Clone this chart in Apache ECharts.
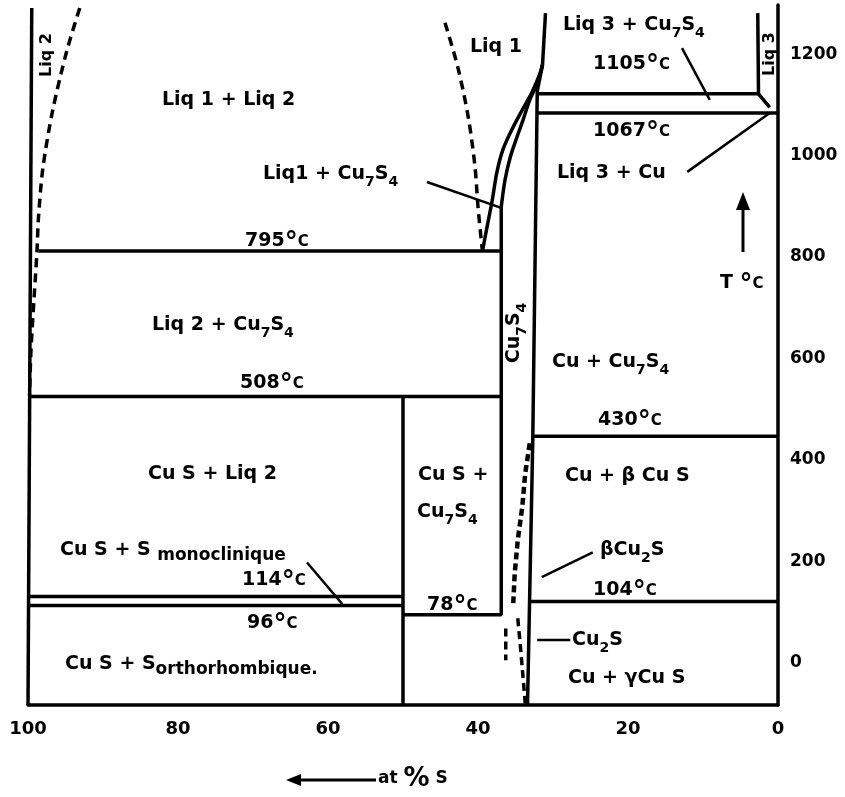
<!DOCTYPE html>
<html><head><meta charset="utf-8">
<script src="https://cdn.jsdelivr.net/npm/echarts@6/dist/echarts.min.js"></script>
<style>html,body{margin:0;padding:0;background:#fff}#c{width:845px;height:797px}</style>
</head><body><div id="c"></div>
<script>
// ---- data (x = at % S, y = temperature °C) ----
const xTicks = [0, 20, 40, 60, 80, 100];
const yTicks = [0, 200, 400, 600, 800, 1000, 1200];

const sulfurEdge = [[100, -100], [99.5, 1274]];
const liq2Gap = [[93.1, 1274], [94.8, 1191], [96.7, 1073], [98.0, 960], [98.6, 862], [98.8, 795], [99.2, 700], [99.6, 600], [99.8, 510]];
const liq1Gap = [[44.4, 1245], [42.7, 1158], [41.3, 1059], [40.4, 961], [40.0, 882], [39.5, 807], [39.4, 795]];
const eutectic795 = [[98.6, 795], [36.9, 795]];
const liquidusCu7S4 = [[39.4, 795], [38.8, 842], [38.1, 895], [37.5, 949], [36.7, 994], [35.5, 1034], [34.1, 1073], [32.8, 1108], [31.7, 1146], [31.4, 1162]];
const cu7s4Left = [[50, 78], [36.9, 78], [36.9, 882]];
const cu7s4Solidus = [[36.9, 882], [36.4, 935], [35.7, 980], [34.8, 1020], [34.0, 1053], [33.1, 1093], [32.1, 1126], [31.4, 1162]];
const liq1Liq3Line = [[31.4, 1162], [31.0, 1264]];
const cu2sBoundary = [[31.4, 1162], [32.1, 1110], [32.7, 420], [33.4, -100]];
const line1105 = [[32.1, 1105], [2.6, 1105]];
const liq3Boundary = [[2.7, 1264], [2.6, 1105], [1.1, 1078]];
const line1067 = [[32.0, 1067], [0, 1067]];
const line430 = [[32.7, 430], [0, 430]];
const line104 = [[33.0, 104], [0, 104]];
const line508 = [[100, 508], [36.9, 508]];
const cusEdge = [[50, -100], [50, 508]];
const line114 = [[100, 114], [50, 114]];
const line96 = [[100, 96], [50, 96]];
const betaCu2S = [[33.1, 416], [33.7, 357], [34.1, 290], [34.7, 225], [35.1, 160], [35.3, 101]];
const gammaLine = [[34.7, 71], [34.3, 8], [33.7, -97]];
const shortDash = [[36.3, 51], [36.3, -12]];
const leaders = [
  [[46.8, 931], [36.9, 880]],
  [[12.8, 1195], [9.1, 1093]],
  [[12.1, 951], [1.1, 1067]],
  [[62.8, 181], [58.1, 99]],
  [[31.5, 152], [24.7, 201]],
  [[32.1, 28], [27.7, 28]]
];

// ---- rendering ----
const FF = '"DejaVu Sans", sans-serif';
const RICH = {
  s: { font: 'bold 14px ' + FF, padding: [17, 0, 0, 0] },
  c: { font: 'bold 15px ' + FF, padding: [3, 0, 0, 0] },
  d: { font: 'bold 26px ' + FF, padding: [5, 0, 0, 0] },
  m: { font: 'bold 17px ' + FF, padding: [12, 0, 0, 0] },
  p: { font: 'bold 26px ' + FF }
};
function txt(x, y, text, size, extra) {
  return Object.assign({
    type: 'text', x: x, y: y, z: 10,
    style: { text: text, fill: '#000', font: 'bold ' + (size || 19) + 'px ' + FF,
      textAlign: 'left', textVerticalAlign: 'middle', rich: RICH }
  }, extra || {});
}
function vtxt(x, y, text, size) {
  const t = txt(x, y, text, size, { rotation: Math.PI / 2 });
  t.style.textAlign = 'center';
  return t;
}
function solid(data, w, smooth) {
  return { type: 'line', data: data, symbol: 'none', smooth: smooth || false, clip: false, silent: true,
    lineStyle: { color: '#000', width: w || 3.5 } };
}
function dashed(data, w, dash, smooth) {
  return { type: 'line', data: data, symbol: 'none', smooth: smooth || false, clip: false, silent: true,
    lineStyle: { color: '#000', width: w || 3, type: dash || [9, 6] } };
}

const series = [
  solid(sulfurEdge), dashed(liq2Gap, 3.5, [9, 6], 0.3), dashed(liq1Gap, 3.5, [9, 6], 0.3),
  solid(eutectic795), solid(liquidusCu7S4, 3.5, 0.3), solid(cu7s4Left), solid(cu7s4Solidus, 3.5, 0.3),
  solid(liq1Liq3Line), solid(cu2sBoundary), solid(line1105), solid(liq3Boundary), solid(line1067),
  solid(line430), solid(line104), solid(line508), solid(cusEdge), solid(line114), solid(line96),
  dashed(betaCu2S, 4.5, [7, 4]), dashed(gammaLine, 3.5, [8, 5]), dashed(shortDash, 3.5, [8, 5])
].concat(leaders.map(function (l) { return solid(l, 2.5); }));

const graphic = [
  txt(162, 100, 'Liq 1 + Liq 2'),
  txt(470, 47, 'Liq 1'),
  txt(263, 174, 'Liq1 + Cu{s|7}S{s|4}'),
  txt(245, 241, '795{d|°}{c|C}'),
  txt(152, 325, 'Liq 2 + Cu{s|7}S{s|4}'),
  txt(240, 383, '508{d|°}{c|C}'),
  vtxt(514, 333, 'Cu{s|7}S{s|4}'),
  txt(552, 362, 'Cu + Cu{s|7}S{s|4}'),
  txt(598, 420, '430{d|°}{c|C}'),
  txt(148, 474, 'Cu S + Liq 2'),
  txt(418, 475, 'Cu S +'),
  txt(417, 512, 'Cu{s|7}S{s|4}'),
  txt(565, 476, 'Cu + β Cu S'),
  txt(600, 550, 'βCu{s|2}S'),
  txt(593, 590, '104{d|°}{c|C}'),
  txt(427, 605, '78{d|°}{c|C}'),
  txt(572, 640, 'Cu{s|2}S'),
  txt(568, 678, 'Cu + γCu S'),
  txt(60, 550, 'Cu S + S {m|monoclinique}'),
  txt(242, 580, '114{d|°}{c|C}'),
  txt(247, 623, '96{d|°}{c|C}'),
  txt(65, 664, 'Cu S + S{m|orthorhombique.}'),
  txt(563, 25, 'Liq 3 + Cu{s|7}S{s|4}'),
  txt(593, 64, '1105{d|°}{c|C}'),
  txt(593, 131, '1067{d|°}{c|C}'),
  txt(557, 173, 'Liq 3 + Cu'),
  vtxt(770, 54, 'Liq 3', 16),
  vtxt(47, 55, 'Liq 2', 16),
  txt(720, 283, 'T {d|°}{c|C}'),
  { type: 'line', z: 10, shape: { x1: 743, y1: 252, x2: 743, y2: 205 }, style: { stroke: '#000', lineWidth: 3 } },
  { type: 'polygon', z: 10, shape: { points: [[743, 192], [736, 210], [750, 210]] }, style: { fill: '#000' } },
  { type: 'line', z: 10, shape: { x1: 298, y1: 780, x2: 376, y2: 780 }, style: { stroke: '#000', lineWidth: 3 } },
  { type: 'polygon', z: 10, shape: { points: [[286, 780], [301, 774], [301, 786]] }, style: { fill: '#000' } },
  txt(378, 779, 'at {p|%} S', 17)
];

const chart = echarts.init(document.getElementById('c'));
chart.setOption({
  backgroundColor: '#fff',
  animation: false,
  grid: { left: 28, right: 67, top: 5, bottom: 92 },
  xAxis: {
    type: 'value', inverse: true, min: 0, max: 100, interval: 20,
    axisLine: { show: true, onZero: false, lineStyle: { color: '#000', width: 3.5 } },
    axisTick: { show: false }, splitLine: { show: false },
    axisLabel: { customValues: xTicks, formatter: function (v) { return String(v); }, color: '#000', fontFamily: FF, fontWeight: 'bold', fontSize: 18, margin: 15 }
  },
  yAxis: {
    type: 'value', position: 'right', min: -100, max: 1280,
    axisLine: { show: true, onZero: false, lineStyle: { color: '#000', width: 3.5 } },
    axisTick: { show: false }, splitLine: { show: false },
    axisLabel: { customValues: yTicks, formatter: function (v) { return String(v); }, color: '#000', fontFamily: FF, fontWeight: 'bold', fontSize: 17, margin: 12, verticalAlign: 'top' }
  },
  series: series,
  graphic: graphic
});
</script>
</body></html>
